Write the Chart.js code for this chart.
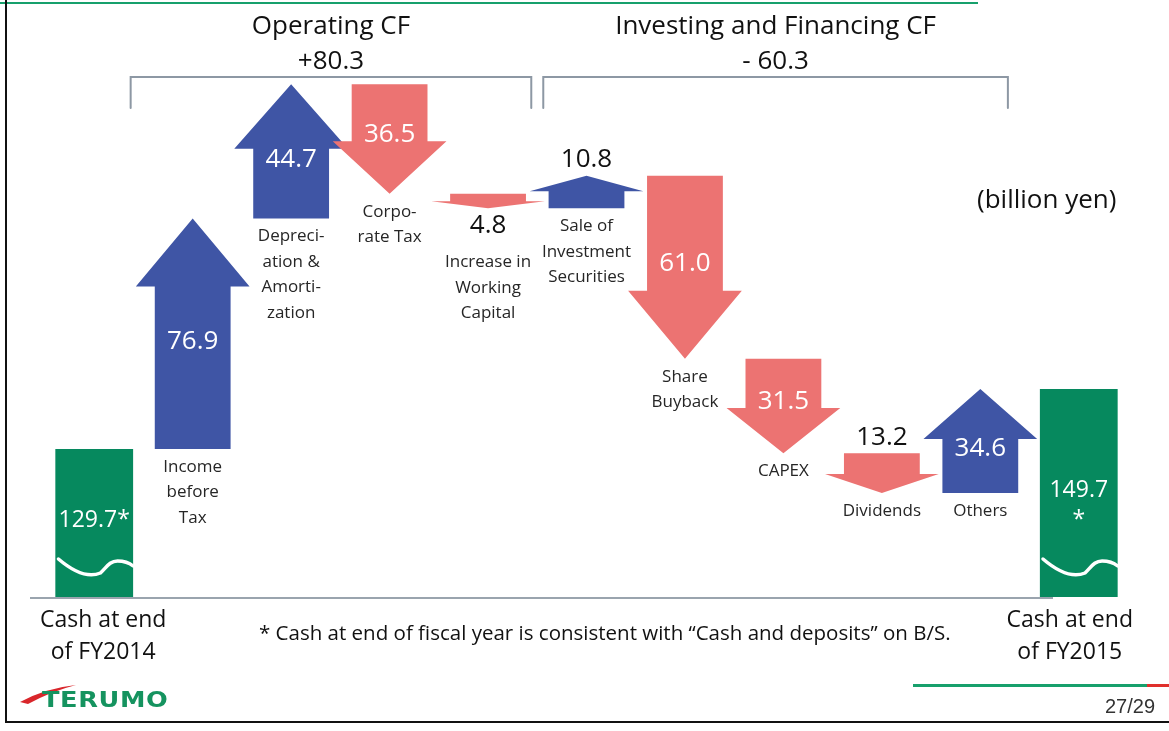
<!DOCTYPE html>
<html>
<head>
<meta charset="utf-8">
<title>Cash flow FY2015</title>
<script src="https://cdn.jsdelivr.net/npm/chart.js@4.4.1/dist/chart.umd.min.js"></script>
<style>
  html, body { margin: 0; padding: 0; background: #fff; }
  body { width: 1169px; height: 731px; position: relative; overflow: hidden; font-family: 'Open Sans', sans-serif; }
  #chart { position: absolute; left: 0; top: 0; }
  .abs { position: absolute; white-space: nowrap; }
  #top-line { left: 0; top: 2px; width: 978px; height: 2px; background: #17a06c; }
  #left-border { left: 5px; top: 0; width: 2px; height: 723px; background: #111; }
  #bottom-border { left: 5px; top: 721px; width: 1164px; height: 2px; background: #111; }
  #foot-green { left: 913px; top: 684px; width: 234px; height: 3px; background: #17a06c; }
  #foot-red { left: 1147px; top: 684px; width: 22px; height: 3px; background: #e0302c; }
  #unit { left: 977px; top: 180px; font-size: 26px; color: #111; }
  #note { left: 259px; top: 618px; font-size: 20.5px; color: #111; }
  #logo { left: 42px; top: 688px; font-family: 'DejaVu Sans', sans-serif; font-weight: bold; font-size: 21px;
          color: #15935f; transform: scaleX(1.22); transform-origin: left center; letter-spacing: 0.5px; }
  #swoosh { left: 18px; top: 680px; }
  #page { left: 1105px; top: 695px; font-family: 'Liberation Sans', sans-serif; font-size: 20px; color: #333; }
</style>
</head>
<body>
<canvas id="chart" width="1169" height="731"></canvas>
<div class="abs" id="top-line"></div>
<div class="abs" id="left-border"></div>
<div class="abs" id="bottom-border"></div>
<div class="abs" id="foot-green"></div>
<div class="abs" id="foot-red"></div>
<div class="abs" id="unit">(billion yen)</div>
<div class="abs" id="note">* Cash at end of fiscal year is consistent with “Cash and deposits” on B/S.</div>
<svg class="abs" id="swoosh" width="70" height="30" viewBox="0 0 70 30">
  <path d="M2,22 Q28,8 58,5 Q34,11 10,24 Z" fill="#d9262b"/>
</svg>
<div class="abs" id="logo">TERUMO</div>
<div class="abs" id="page">27/29</div>

<script>
const categories = [
    'Cash at end of FY2014', 'Income before Tax', 'Depreciation & Amortization', 'Corporate Tax',
    'Increase in Working Capital', 'Sale of Investment Securities', 'Share Buyback', 'CAPEX',
    'Dividends', 'Others', 'Cash at end of FY2015'
];
const categoryLines = [
    ['Cash at end', 'of FY2014'], ['Income', 'before', 'Tax'], ['Depreci-', 'ation &', 'Amorti-', 'zation'],
    ['Corpo-', 'rate Tax'], ['Increase in', 'Working', 'Capital'], ['Sale of', 'Investment', 'Securities'],
    ['Share', 'Buyback'], ['CAPEX'], ['Dividends'], ['Others'], ['Cash at end', 'of FY2015']
];
const cashValues = [129.7, null, null, null, null, null, null, null, null, null, 149.7];
const flowValues = [null, 76.9, 44.7, -36.5, -4.8, 10.8, -61.0, -31.5, -13.2, 34.6, null];
const valueLabels = [['129.7*'], ['76.9'], ['44.7'], ['36.5'], ['4.8'], ['10.8'], ['61.0'], ['31.5'], ['13.2'], ['34.6'], ['149.7', '*']];
const groupTitles = ['Operating CF', 'Investing and Financing CF'];
const groupTotals = ['+80.3', '- 60.3'];
const groupRanges = [[1, 4], [5, 9]];

const BLUE = '#3f55a5';
const RED = '#ec7372';
const GREEN = '#06895e';
const TEXT = '#262626';
const FONT = "'Open Sans', sans-serif";

// where the number of each arrow goes
const valuePlacement = ['cash', 'inside', 'inside', 'inside', 'below', 'above', 'inside', 'inside', 'above', 'inside', 'cash'];

// running total -> floating bar [from, to]
let running = cashValues[0];
const flowRanges = flowValues.map(v => {
    if (v === null) return null;
    const r = [running, running + v];
    running += v;
    return r;
});

function drawArrow(ctx, cx, yFrom, yTo, shaftW, color) {
    const dir = yTo > yFrom ? 1 : -1;
    const len = Math.abs(yTo - yFrom);
    const headW = shaftW * 1.5;
    const headLen = Math.min(len * 0.48, 68);
    const neck = yTo - dir * headLen;
    ctx.beginPath();
    ctx.moveTo(cx - shaftW / 2, yFrom);
    ctx.lineTo(cx - shaftW / 2, neck);
    ctx.lineTo(cx - headW / 2, neck);
    ctx.lineTo(cx, yTo);
    ctx.lineTo(cx + headW / 2, neck);
    ctx.lineTo(cx + shaftW / 2, neck);
    ctx.lineTo(cx + shaftW / 2, yFrom);
    ctx.closePath();
    ctx.fillStyle = color;
    ctx.fill();
}

function drawLines(ctx, lines, x, yFirst, lineH, font, color) {
    ctx.font = font;
    ctx.fillStyle = color;
    ctx.textAlign = 'center';
    ctx.textBaseline = 'middle';
    lines.forEach((t, k) => ctx.fillText(t, x, yFirst + k * lineH));
}

function drawWave(ctx, bar, bottom) {
    const w = bar.width;
    const xl = bar.x - w / 2;
    ctx.beginPath();
    ctx.moveTo(xl + 0.04 * w, bottom - 38);
    ctx.bezierCurveTo(xl + 0.25 * w, bottom - 24, xl + 0.42 * w, bottom - 19, xl + 0.58 * w, bottom - 24);
    ctx.bezierCurveTo(xl + 0.66 * w, bottom - 30, xl + 0.70 * w, bottom - 36, xl + 0.80 * w, bottom - 36);
    ctx.quadraticCurveTo(xl + 0.92 * w, bottom - 36, xl + w, bottom - 31);
    ctx.strokeStyle = '#fff';
    ctx.lineWidth = 3.5;
    ctx.lineCap = 'round';
    ctx.stroke();
}

const waterfallArrows = {
    id: 'waterfallArrows',
    beforeDatasetsDraw(chart) {
        const {ctx, chartArea} = chart;
        ctx.save();
        ctx.strokeStyle = '#9aa4ae';
        ctx.lineWidth = 2;
        ctx.beginPath();
        ctx.moveTo(30, chartArea.bottom + 1);
        ctx.lineTo(1053, chartArea.bottom + 1);
        ctx.stroke();
        ctx.restore();
    },
    afterDatasetsDraw(chart) {
        const {ctx, chartArea, scales: {x, y}} = chart;
        const cashMeta = chart.getDatasetMeta(0);
        const flowMeta = chart.getDatasetMeta(1);
        const step = x.getPixelForValue(1) - x.getPixelForValue(0);
        ctx.save();

        // arrows and their labels
        flowRanges.forEach((r, i) => {
            if (!r) return;
            const bar = flowMeta.data[i];
            const y0 = y.getPixelForValue(r[0]);
            const y1 = y.getPixelForValue(r[1]);
            const up = r[1] > r[0];
            drawArrow(ctx, bar.x, y0, y1, bar.width, up ? BLUE : RED);

            const low = Math.max(y0, y1);
            const high = Math.min(y0, y1);
            let catY = low + 18;
            const place = valuePlacement[i];
            if (place === 'inside') {
                const mid = (y0 + y1) / 2 + (up ? 8 : -4);
                drawLines(ctx, valueLabels[i], bar.x, mid, 30, `26px ${FONT}`, '#fff');
            } else if (place === 'below') {
                drawLines(ctx, valueLabels[i], bar.x, low + 17, 30, `26px ${FONT}`, '#111');
                catY = low + 54;
            } else if (place === 'above') {
                drawLines(ctx, valueLabels[i], bar.x, high - 16, 30, `26px ${FONT}`, '#111');
            }
            drawLines(ctx, categoryLines[i], bar.x, catY, 25.5, `17px ${FONT}`, TEXT);
        });

        // cash bars: wave, value, caption
        cashValues.forEach((v, i) => {
            if (v === null) return;
            const bar = cashMeta.data[i];
            const bottom = chartArea.bottom;
            drawWave(ctx, bar, bottom);
            const lines = valueLabels[i];
            drawLines(ctx, lines, bar.x, bottom - 77 - (lines.length - 1) * 30, 30, `23px ${FONT}`, '#fff');
            const shift = i === 0 ? 9 : -9;
            drawLines(ctx, categoryLines[i], bar.x + shift, bottom + 23, 32, `23px ${FONT}`, '#111');
        });

        // group brackets and headers
        groupRanges.forEach(([a, b], g) => {
            const mid = (x.getPixelForValue(groupRanges[0][1]) + x.getPixelForValue(groupRanges[1][0])) / 2;
            const left = g === 0 ? x.getPixelForValue(a) - 0.63 * step : mid + 6;
            const right = g === 0 ? mid - 6 : x.getPixelForValue(b) + 0.28 * step;
            ctx.strokeStyle = '#8d98a4';
            ctx.lineWidth = 2;
            ctx.beginPath();
            ctx.moveTo(left, 108);
            ctx.lineTo(left, 77);
            ctx.lineTo(right, 77);
            ctx.lineTo(right, 108);
            ctx.stroke();
            drawLines(ctx, [groupTitles[g], groupTotals[g]], (left + right) / 2, 27, 35, `26px ${FONT}`, '#111');
        });
        ctx.restore();
    }
};

const ctx = document.getElementById('chart').getContext('2d');
const cashChart = new Chart(ctx, {
    type: 'bar',
    data: {
        labels: categories,
        datasets: [{
            label: 'Cash',
            data: cashValues,
            backgroundColor: GREEN,
            grouped: false,
            clip: 0,
            categoryPercentage: 1,
            barPercentage: 0.79
        }, {
            label: 'Cash flow',
            data: flowRanges,
            backgroundColor: 'rgba(0,0,0,0)',
            grouped: false,
            categoryPercentage: 1,
            barPercentage: 0.77
        }]
    },
    options: {
        responsive: false,
        animation: false,
        devicePixelRatio: 1,
        layout: { padding: { left: 45, right: 41, top: 60, bottom: 134 } },
        plugins: { legend: { display: false }, tooltip: { enabled: false } },
        scales: {
            x: { display: false },
            y: { display: false, min: 80.4, max: 259.4 }
        }
    },
    plugins: [waterfallArrows]
});
</script>
</body>
</html>
